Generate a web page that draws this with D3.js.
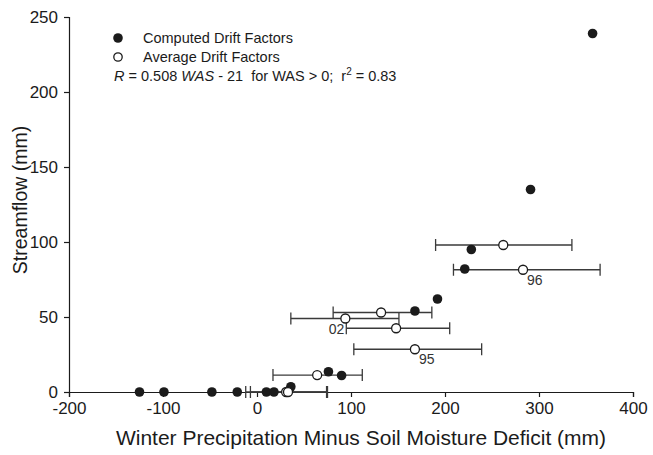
<!DOCTYPE html>
<html><head><meta charset="utf-8">
<script src="https://cdn.jsdelivr.net/npm/d3@7"></script>
<style>
body{margin:0;background:#fff;}
svg{font-family:"Liberation Sans",Arial,sans-serif;}
</style></head>
<body><svg id="c" width="653" height="455"></svg>
<script>
// Computed drift factors (filled circles)
const computedX = [-125, -99, -48, -21, 10, 18, 36, 76, 90, 168, 192, 221, 228, 291, 357];
const computedY = [0, 0, 0, 0, 0, 0, 3.5, 13.5, 11, 54, 62, 82, 95, 135, 239];
// Average drift factors (open circles) with horizontal error bars
const averageX = [31, 33, 64, 94, 132, 148, 168, 262, 283];
const averageY = [0, 0, 11.3, 49, 53, 42.5, 28.5, 98, 81.5];
const errLow  = [-12, -7, 17, 36, 81, 95, 103, 190, 209];
const errHigh = [74, 75, 112, 151, 186, 205, 239, 335, 365];
const pointLabels = ["", "", "", "02", "", "", "95", "", "96"];
const xTicks = [-200, -100, 0, 100, 200, 300, 400];
const yTicks = [0, 50, 100, 150, 200, 250];
const legendLabels = ["Computed Drift Factors", "Average Drift Factors"];

const svg = d3.select("#c");
const x = d3.scaleLinear().domain([-200, 400]).range([69, 633]);
const y = d3.scaleLinear().domain([0, 250]).range([392, 17]);
const ink = "#1b1b1b";

// axes
const xa = svg.append("g").attr("transform", "translate(0,392)")
  .call(d3.axisBottom(x).tickValues(xTicks).tickSize(5).tickPadding(5).tickFormat(d3.format("d")));
const ya = svg.append("g").attr("transform", "translate(69,0)")
  .call(d3.axisLeft(y).tickValues(yTicks).tickSize(5).tickPadding(6).tickFormat(d3.format("d")));
[xa, ya].forEach(a => {
  a.select(".domain").attr("stroke", ink).attr("stroke-width", 1.2);
  a.selectAll(".tick line").attr("stroke", ink).attr("stroke-width", 1.2);
  a.selectAll("text").attr("fill", ink).style("font-size", "17px").style("font-family", "Liberation Sans, Arial, sans-serif");
});
xa.selectAll("text").text(d => d < 0 ? "-" + Math.abs(d) : d);

// axis titles
svg.append("text").attr("x", 361).attr("y", 445).attr("text-anchor", "middle")
  .attr("fill", ink).style("font-size", "21px")
  .text("Winter Precipitation Minus Soil Moisture Deficit (mm)");
svg.append("text").attr("transform", "translate(27,200) rotate(-90)").attr("text-anchor", "middle")
  .attr("fill", ink).style("font-size", "19.5px").text("Streamflow (mm)");

const idx = d3.range(averageX.length);
// error bars
const eb = svg.append("g").attr("stroke", "#3a3a3a").attr("stroke-width", 1.3);
idx.forEach(i => {
  const yy = y(averageY[i]);
  eb.append("line").attr("x1", x(errLow[i])).attr("x2", x(errHigh[i])).attr("y1", yy).attr("y2", yy);
  eb.append("line").attr("x1", x(errLow[i])).attr("x2", x(errLow[i])).attr("y1", yy - 6).attr("y2", yy + 6);
  eb.append("line").attr("x1", x(errHigh[i])).attr("x2", x(errHigh[i])).attr("y1", yy - 6).attr("y2", yy + 6);
});

// filled points
svg.append("g").selectAll("circle").data(computedX).join("circle")
  .attr("cx", (d) => x(d)).attr("cy", (d, i) => y(computedY[i])).attr("r", 4.8).attr("fill", ink);

// open points
svg.append("g").selectAll("circle").data(averageX).join("circle")
  .attr("cx", d => x(d)).attr("cy", (d, i) => y(averageY[i])).attr("r", 4.5)
  .attr("fill", "#fff").attr("stroke", ink).attr("stroke-width", 1.3);

// point labels
idx.forEach(i => {
  const l = pointLabels[i];
  if (!l) return;
  const left = l === "02";
  svg.append("text")
    .attr("x", left ? x(averageX[i]) - 1 : x(averageX[i]) + 4)
    .attr("y", y(averageY[i]) + 15)
    .attr("text-anchor", left ? "end" : "start")
    .attr("fill", "#333").style("font-size", "14px").text(l);
});

// legend
const lg = svg.append("g");
lg.append("circle").attr("cx", 118).attr("cy", 38).attr("r", 4.8).attr("fill", ink);
lg.append("circle").attr("cx", 118).attr("cy", 57).attr("r", 4.2).attr("fill", "#fff").attr("stroke", ink).attr("stroke-width", 1.3);
legendLabels.forEach((t, i) => {
  lg.append("text").attr("x", 143).attr("y", 43 + i * 19).attr("fill", ink).style("font-size", "14.5px").text(t);
});
const eq = lg.append("text").attr("x", 114).attr("y", 81).attr("fill", ink).style("font-size", "14.5px").attr("xml:space", "preserve");
eq.append("tspan").style("font-style", "italic").text("R");
eq.append("tspan").text(" = 0.508 ");
eq.append("tspan").style("font-style", "italic").text("WAS");
eq.append("tspan").text(" - 21  for WAS > 0;  r");
eq.append("tspan").attr("dy", -6).style("font-size", "10px").text("2");
eq.append("tspan").attr("dy", 6).text(" = 0.83");
</script></body></html>
